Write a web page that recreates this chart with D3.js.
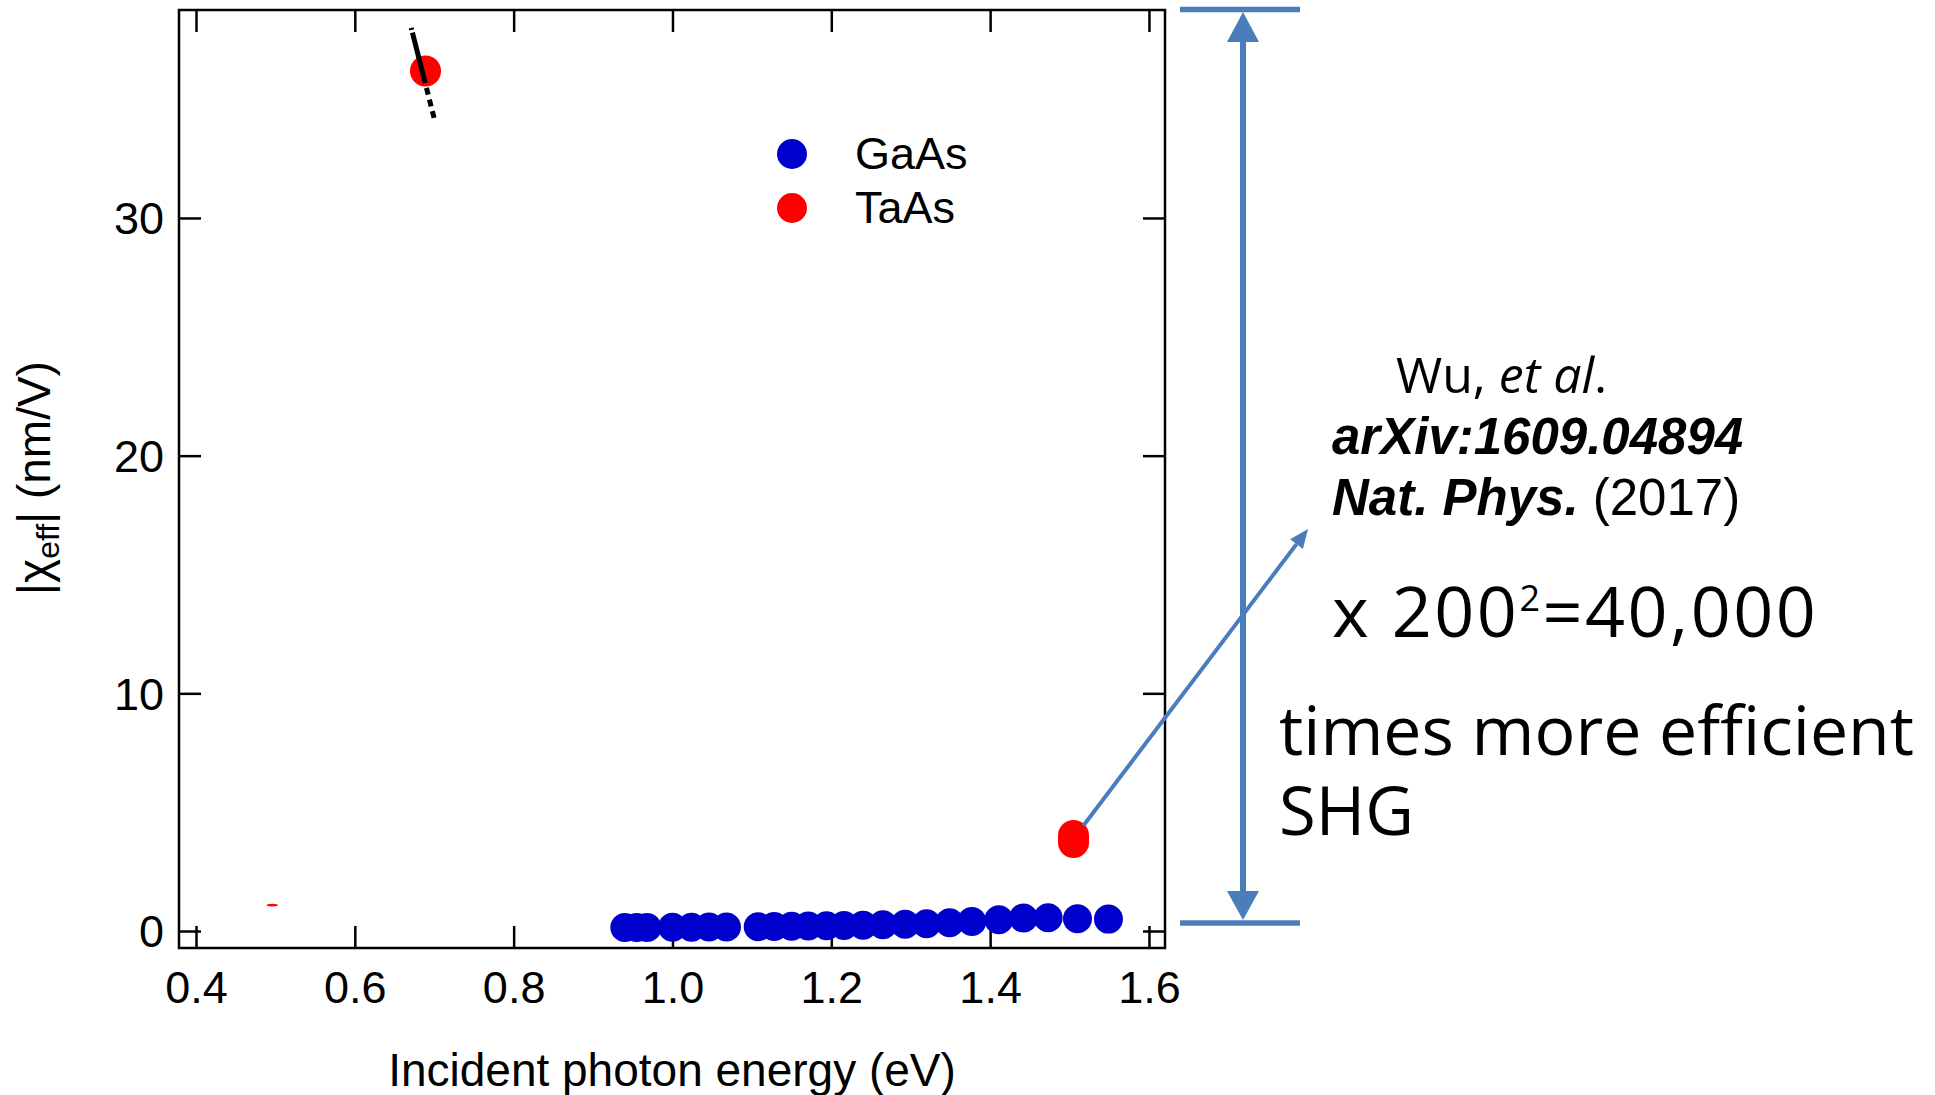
<!DOCTYPE html>
<html>
<head>
<meta charset="utf-8">
<script src="https://cdn.jsdelivr.net/npm/d3@7"></script>
<style>
  html, body { margin: 0; padding: 0; background: #fff; }
  svg { display: block; }
</style>
</head>
<body>
<script>
// ---------- data ----------
const xTicks = [0.4, 0.6, 0.8, 1.0, 1.2, 1.4, 1.6];
const yTicks = [0, 10, 20, 30];

const gaasX = [0.940, 0.955, 0.968, 1.000, 1.024, 1.046, 1.068, 1.108, 1.128, 1.150, 1.171, 1.194,
               1.216, 1.240, 1.265, 1.293, 1.320, 1.349, 1.377, 1.411, 1.442, 1.473, 1.510, 1.549];
const gaasY = [0.15, 0.15, 0.15, 0.16, 0.16, 0.17, 0.17, 0.18, 0.19, 0.20, 0.21, 0.22,
               0.23, 0.24, 0.26, 0.28, 0.31, 0.35, 0.40, 0.47, 0.55, 0.56, 0.52, 0.50];

const taasX = [0.689, 1.505, 1.505, 1.505];
const taasY = [36.18, 3.72, 3.87, 4.02];

const taasFaintX = [0.496];
const taasFaintY = [1.09];

const guideX = [0.671, 0.701];
const guideY = [38.0, 34.05];

const legendLabels = ["GaAs", "TaAs"];
const xTitle = "Incident photon energy (eV)";

// ---------- layout ----------
const W = 1935, H = 1095;
const frame = { left: 179, right: 1165, top: 10, bottom: 948 };
const svg = d3.select("body").append("svg").attr("width", W).attr("height", H);

const x = d3.scaleLinear().domain([0.3786, 1.6202]).range([frame.left, frame.right]);
const y = d3.scaleLinear().domain([-0.715, 38.75]).range([frame.bottom, frame.top]);

const BLUE = "#0000CC", RED = "#FF0000", ANNO = "#4A7EBB";
const sans = "'Liberation Sans', Arial, sans-serif";
const light = "'Open Sans', sans-serif";

// frame
svg.append("rect")
  .attr("x", frame.left).attr("y", frame.top)
  .attr("width", frame.right - frame.left).attr("height", frame.bottom - frame.top)
  .attr("fill", "none").attr("stroke", "#000").attr("stroke-width", 2.5);

// axes with inward ticks (mirrored)
const tickLen = 22;
const axB = d3.axisBottom(x).tickValues(xTicks).tickSize(-tickLen).tickPadding(30).tickFormat(d3.format(".1f"));
const gB = svg.append("g").attr("transform", `translate(0,${frame.bottom})`).call(axB);
const axT = d3.axisTop(x).tickValues(xTicks).tickSize(-tickLen).tickFormat("");
const gT = svg.append("g").attr("transform", `translate(0,${frame.top})`).call(axT);
const axL = d3.axisLeft(y).tickValues(yTicks).tickSize(-tickLen).tickPadding(15).tickFormat(d3.format("d"));
const gL = svg.append("g").attr("transform", `translate(${frame.left},0)`).call(axL);
const axR = d3.axisRight(y).tickValues(yTicks).tickSize(-tickLen).tickFormat("");
const gR = svg.append("g").attr("transform", `translate(${frame.right},0)`).call(axR);

[gB, gT, gL, gR].forEach(g => {
  g.select(".domain").remove();
  g.selectAll(".tick line").attr("stroke", "#000").attr("stroke-width", 2.5);
  g.selectAll(".tick text").attr("fill", "#000").attr("font-family", sans).attr("font-size", 45);
});
gB.selectAll(".tick text").attr("dy", null).attr("y", 55);
gL.selectAll(".tick text").attr("dy", "0.35em");

// axis titles
svg.append("text")
  .attr("x", (frame.left + frame.right) / 2).attr("y", 1086)
  .attr("text-anchor", "middle").attr("font-family", sans).attr("font-size", 46)
  .text(xTitle);

const yt = svg.append("text")
  .attr("transform", "translate(50,478) rotate(-90)")
  .attr("text-anchor", "middle").attr("font-family", sans).attr("font-size", 46);
yt.append("tspan").text("|χ");
yt.append("tspan").attr("font-size", 32).attr("dy", 9).text("eff");
yt.append("tspan").attr("dy", -9).text("| (nm/V)");

// GaAs points
svg.append("g").selectAll("circle")
  .data(gaasX.map((v, i) => [v, gaasY[i]]))
  .join("circle")
  .attr("cx", d => x(d[0])).attr("cy", d => y(d[1])).attr("r", 14.5)
  .attr("fill", BLUE);

// TaAs points
svg.append("g").selectAll("circle")
  .data(taasX.map((v, i) => [v, taasY[i]]))
  .join("circle")
  .attr("cx", d => x(d[0])).attr("cy", d => y(d[1])).attr("r", 15.5)
  .attr("fill", RED);

// faint TaAs remnant
svg.append("g").selectAll("ellipse")
  .data(taasFaintX.map((v, i) => [v, taasFaintY[i]]))
  .join("ellipse")
  .attr("cx", d => x(d[0])).attr("cy", d => y(d[1])).attr("rx", 6).attr("ry", 1.3)
  .attr("fill", RED);

// guide dashed line through the top TaAs point (drawn over it)
svg.append("line")
  .attr("x1", x(guideX[0])).attr("y1", y(guideY[0]))
  .attr("x2", x(guideX[1])).attr("y2", y(guideY[1]))
  .attr("stroke", "#000").attr("stroke-width", 5)
  .attr("stroke-dasharray", "2,3,52,5,7,5,7,5,7,4,6");

// legend
const lg = svg.append("g");
legendLabels.forEach((lab, i) => {
  const cy = 154 + i * 54;
  lg.append("circle").attr("cx", 792).attr("cy", cy).attr("r", 15).attr("fill", i === 0 ? BLUE : RED);
  lg.append("text").attr("x", 855).attr("y", cy + 15)
    .attr("font-family", sans).attr("font-size", 45).attr("fill", "#000").text(lab);
});

// ---------- annotations ----------
const an = svg.append("g");
// vertical double arrow
an.append("line").attr("x1", 1180).attr("x2", 1300).attr("y1", 9.5).attr("y2", 9.5)
  .attr("stroke", ANNO).attr("stroke-width", 5.5);
an.append("line").attr("x1", 1180).attr("x2", 1300).attr("y1", 923).attr("y2", 923)
  .attr("stroke", ANNO).attr("stroke-width", 5.5);
an.append("line").attr("x1", 1243).attr("x2", 1243).attr("y1", 40).attr("y2", 893)
  .attr("stroke", ANNO).attr("stroke-width", 6);
an.append("polygon").attr("points", "1243,12 1227,42 1259,42").attr("fill", ANNO);
an.append("polygon").attr("points", "1243,920 1227,891 1259,891").attr("fill", ANNO);

// diagonal arrow from red point to reference
const sx = x(taasX[1]) + 10, sy = y(taasY[3]) - 10;
const ex = 1308, ey = 529;
const ang = Math.atan2(ey - sy, ex - sx);
const hl = 19, hw = 8;
const bx = ex - hl * Math.cos(ang), by = ey - hl * Math.sin(ang);
an.append("line").attr("x1", sx).attr("y1", sy).attr("x2", bx).attr("y2", by)
  .attr("stroke", ANNO).attr("stroke-width", 4);
an.append("polygon").attr("points", [
  [ex, ey],
  [bx + hw * Math.sin(ang), by - hw * Math.cos(ang)],
  [bx - hw * Math.sin(ang), by + hw * Math.cos(ang)]
].map(p => p.join(",")).join(" ")).attr("fill", ANNO);

// reference text
const t1 = an.append("text").attr("x", 1396).attr("y", 393)
  .attr("font-family", light).attr("font-size", 50).attr("fill", "#000");
t1.append("tspan").text("Wu, ");
t1.append("tspan").attr("font-style", "italic").text("et al");
t1.append("tspan").text(".");

an.append("text").attr("x", 1332).attr("y", 454)
  .attr("font-family", sans).attr("font-size", 51).attr("font-weight", "bold")
  .attr("font-style", "italic").attr("fill", "#000").text("arXiv:1609.04894");

const t3 = an.append("text").attr("x", 1332).attr("y", 515)
  .attr("font-family", sans).attr("font-size", 51).attr("fill", "#000");
t3.append("tspan").attr("font-weight", "bold").attr("font-style", "italic").text("Nat. Phys.");
t3.append("tspan").text(" (2017)");

const t4 = an.append("text").attr("x", 1332).attr("y", 637)
  .attr("font-family", light).attr("font-size", 70).attr("letter-spacing", 2.5).attr("fill", "#000");
t4.append("tspan").text("x 200");
t4.append("tspan").attr("font-size", 36).attr("dy", -26).text("2");
t4.append("tspan").attr("dy", 26).text("=40,000");

const t5 = an.append("text").attr("x", 1279).attr("y", 755)
  .attr("font-family", light).attr("font-size", 68).attr("fill", "#000");
t5.append("tspan").attr("x", 1279).text("times more efficient");
t5.append("tspan").attr("x", 1279).attr("dy", 80).attr("font-size", 67).text("SHG");
</script>
</body>
</html>
